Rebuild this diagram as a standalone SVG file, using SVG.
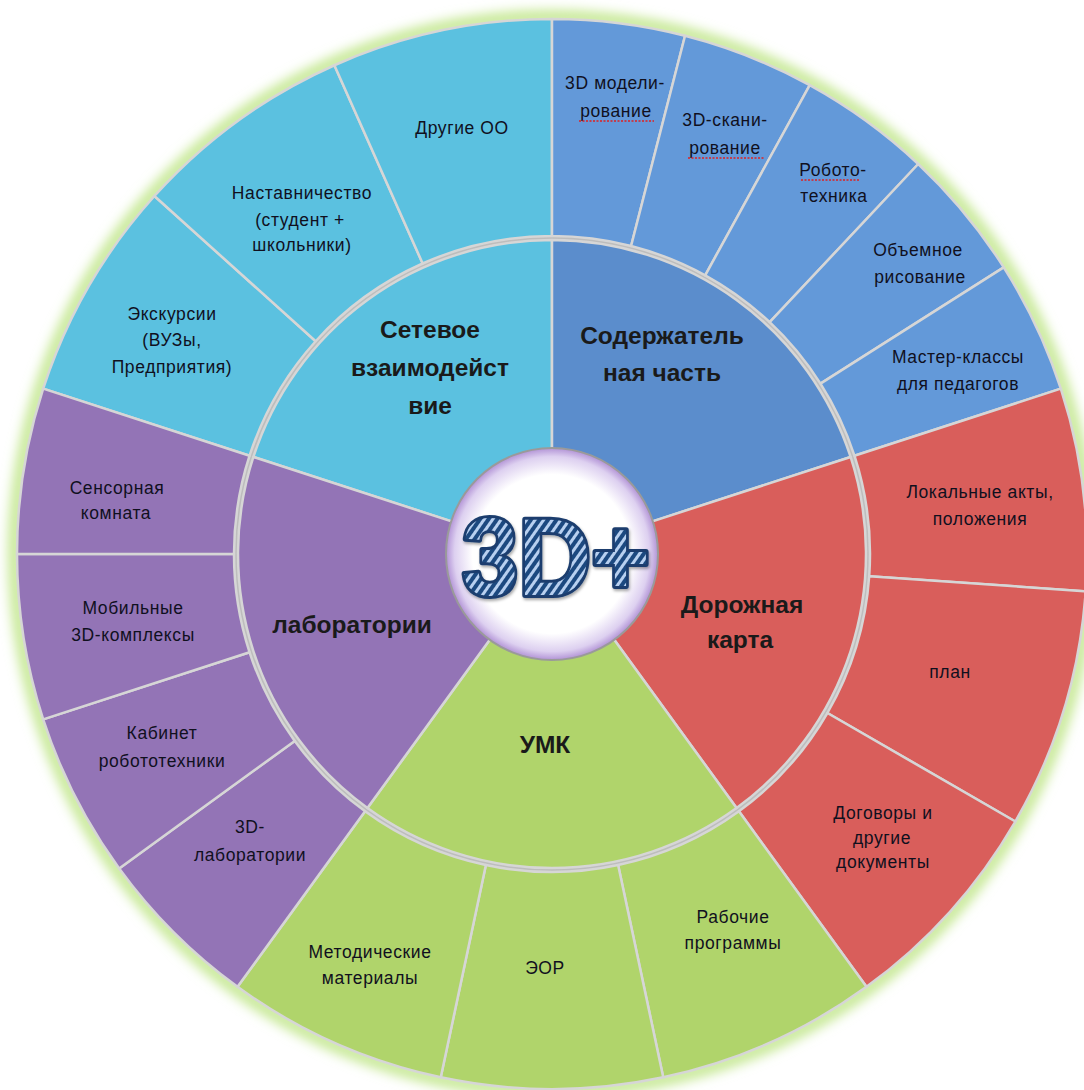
<svg xmlns="http://www.w3.org/2000/svg" width="1084" height="1090" viewBox="0 0 1084 1090">
<defs>
<style>
.seg{stroke:#d6d6d6;stroke-width:2.5;stroke-linejoin:round}
.cy{fill:#5bc1e0}
.bl{fill:#5b8dcc}
.blo{fill:#6399d9}
.rd{fill:#d95e5b}
.gr{fill:#b0d46b}
.pu{fill:#9374b6}
.main{font-family:"Liberation Sans","Noto Sans",sans-serif;font-weight:bold;font-size:24.5px;fill:#1a1a1a;text-anchor:middle}
.lab{font-family:"Liberation Sans","Noto Sans",sans-serif;font-size:17.5px;letter-spacing:0.6px;fill:#10101e;text-anchor:middle}
.sq{stroke:#e02020;stroke-width:1.6;stroke-dasharray:2 1.5;fill:none}
</style>
<filter id="glow" x="-10%" y="-10%" width="120%" height="120%">
<feGaussianBlur stdDeviation="6"/>
</filter>
<filter id="shade" x="-5%" y="-5%" width="110%" height="110%">
<feDropShadow dx="1" dy="2" stdDeviation="1.5" flood-color="#000" flood-opacity="0.35"/>
</filter>
<radialGradient id="hub" cx="0.5" cy="0.5" r="0.5">
<stop offset="0" stop-color="#ffffff"/>
<stop offset="0.75" stop-color="#ffffff"/>
<stop offset="0.92" stop-color="#ddd0f0"/>
<stop offset="1" stop-color="#b293d6"/>
</radialGradient>
<pattern id="stripes" width="7" height="7" patternUnits="userSpaceOnUse" patternTransform="rotate(35)">
<rect width="7" height="7" fill="#1f4a80"/>
<rect width="3" height="7" fill="#b8d0f0"/>
</pattern>
</defs>
<rect width="1084" height="1090" fill="#ffffff"/>
<circle cx="552" cy="554" r="537" fill="none" stroke="#c6e894" stroke-width="14" filter="url(#glow)"/>
<circle cx="552" cy="554" r="316" fill="none" stroke="#bdbdbd" stroke-width="5"/>

<g id="setevoe">
<path class="seg cy" d="M253.37,456.97 A314,314 0 0 1 552,240 L552,454 A100,100 0 0 0 456.89,523.10 Z"/>
<text class="main" x="430" y="338">Сетевое</text>
<text class="main" x="430" y="376">взаимодейст</text>
<text class="main" x="430" y="414">вие</text>
</g>
<g id="ekskursii">
<path class="seg cy" d="M43.18,388.67 A535,535 0 0 1 154.42,196.02 L315.68,341.22 A318,318 0 0 0 249.56,455.73 Z"/>
<text class="lab" x="172" y="320">Экскурсии</text>
<text class="lab" x="172" y="346">(ВУЗы,</text>
<text class="lab" x="172" y="373">Предприятия)</text>
</g>
<g id="nastavnichestvo">
<path class="seg cy" d="M154.42,196.02 A535,535 0 0 1 334.39,65.25 L422.66,263.49 A318,318 0 0 0 315.68,341.22 Z"/>
<text class="lab" x="302" y="199">Наставничество</text>
<text class="lab" x="300" y="226">(студент +</text>
<text class="lab" x="302" y="251">школьники)</text>
</g>
<g id="drugie-oo">
<path class="seg cy" d="M334.39,65.25 A535,535 0 0 1 552,19 L552,236 A318,318 0 0 0 422.66,263.49 Z"/>
<text class="lab" x="462" y="134">Другие ОО</text>
</g>

<g id="soderzhatelnaya">
<path class="seg bl" d="M552,240 A314,314 0 0 1 850.63,456.97 L647.11,523.10 A100,100 0 0 0 552,454 Z"/>
<text class="main" x="662" y="344">Содержатель</text>
<text class="main" x="662" y="381">ная часть</text>
</g>
<g id="modelirovanie">
<path class="seg blo" d="M552,19 A535,535 0 0 1 685.05,35.81 L631.08,245.99 A318,318 0 0 0 552,236 Z"/>
<text class="lab" x="615" y="89">3D модели-</text>
<text class="lab" x="616" y="117">рование</text>
<path class="sq" d="M579,121 H654"/>
</g>
<g id="skanirovanie">
<path class="seg blo" d="M685.05,35.81 A535,535 0 0 1 809.74,85.17 L705.20,275.33 A318,318 0 0 0 631.08,245.99 Z"/>
<text class="lab" x="725" y="126">3D-скани-</text>
<text class="lab" x="725" y="154">рование</text>
<path class="sq" d="M688,158 H764"/>
</g>
<g id="robototehnika">
<path class="seg blo" d="M809.74,85.17 A535,535 0 0 1 918.23,164.01 L769.69,322.19 A318,318 0 0 0 705.20,275.33 Z"/>
<text class="lab" x="833" y="176">Робото-</text>
<text class="lab" x="834" y="202">техника</text>
<path class="sq" d="M801,180 H860"/>
</g>
<g id="obemnoe">
<path class="seg blo" d="M918.23,164.01 A535,535 0 0 1 1003.72,267.33 L820.50,383.61 A318,318 0 0 0 769.69,322.19 Z"/>
<text class="lab" x="918" y="256">Объемное</text>
<text class="lab" x="920" y="283">рисование</text>
</g>
<g id="master-klassy">
<path class="seg blo" d="M1003.72,267.33 A535,535 0 0 1 1060.82,388.67 L854.44,455.73 A318,318 0 0 0 820.50,383.61 Z"/>
<text class="lab" x="958" y="363">Мастер-классы</text>
<text class="lab" x="958" y="390">для педагогов</text>
</g>

<g id="dorozhnaya">
<path class="seg rd" d="M850.63,456.97 A314,314 0 0 1 736.57,808.03 L610.78,634.90 A100,100 0 0 0 647.11,523.10 Z"/>
<text class="main" x="742" y="613">Дорожная</text>
<text class="main" x="740" y="648">карта</text>
</g>
<g id="lokalnye">
<path class="seg rd" d="M1060.82,388.67 A535,535 0 0 1 1085.7,591.3 L869.2,576.2 A318,318 0 0 0 854.44,455.73 Z"/>
<text class="lab" x="980" y="498">Локальные акты,</text>
<text class="lab" x="980" y="525">положения</text>
</g>
<g id="plan">
<path class="seg rd" d="M1085.7,591.3 A535,535 0 0 1 1015.33,821.5 L827.40,713 A318,318 0 0 0 869.2,576.2 Z"/>
<text class="lab" x="950" y="678">план</text>
</g>
<g id="dogovory">
<path class="seg rd" d="M1015.33,821.5 A535,535 0 0 1 866.47,986.83 L738.92,811.27 A318,318 0 0 0 827.40,713 Z"/>
<text class="lab" x="883" y="819">Договоры и</text>
<text class="lab" x="882" y="844">другие</text>
<text class="lab" x="883" y="868">документы</text>
</g>

<g id="umk">
<path class="seg gr" d="M736.57,808.03 A314,314 0 0 1 367.43,808.03 L493.22,634.90 A100,100 0 0 0 610.78,634.90 Z"/>
<text class="main" x="545" y="753">УМК</text>
</g>
<g id="rabochie">
<path class="seg gr" d="M866.47,986.83 A535,535 0 0 1 663.23,1077.31 L618.12,865.05 A318,318 0 0 0 738.92,811.27 Z"/>
<text class="lab" x="733" y="923">Рабочие</text>
<text class="lab" x="733" y="949">программы</text>
</g>
<g id="eor">
<path class="seg gr" d="M663.23,1077.31 A535,535 0 0 1 440.77,1077.31 L485.88,865.05 A318,318 0 0 0 618.12,865.05 Z"/>
<text class="lab" x="545" y="974">ЭОР</text>
</g>
<g id="metodicheskie">
<path class="seg gr" d="M440.77,1077.31 A535,535 0 0 1 237.53,986.83 L365.08,811.27 A318,318 0 0 0 485.88,865.05 Z"/>
<text class="lab" x="370" y="958">Методические</text>
<text class="lab" x="370" y="984">материалы</text>
</g>

<g id="laboratorii">
<path class="seg pu" d="M367.43,808.03 A314,314 0 0 1 253.37,456.97 L456.89,523.10 A100,100 0 0 0 493.22,634.90 Z"/>
<text class="main" x="352" y="633">лаборатории</text>
</g>
<g id="3d-laboratorii">
<path class="seg pu" d="M237.53,986.83 A535,535 0 0 1 119.17,868.47 L294.73,740.92 A318,318 0 0 0 365.08,811.27 Z"/>
<text class="lab" x="250" y="833">3D-</text>
<text class="lab" x="250" y="861">лаборатории</text>
</g>
<g id="kabinet">
<path class="seg pu" d="M119.17,868.47 A535,535 0 0 1 43.18,719.33 L249.56,652.27 A318,318 0 0 0 294.73,740.92 Z"/>
<text class="lab" x="162" y="739">Кабинет</text>
<text class="lab" x="162" y="767">робототехники</text>
</g>
<g id="mobilnye">
<path class="seg pu" d="M43.18,719.33 A535,535 0 0 1 17,554 L234,554 A318,318 0 0 0 249.56,652.27 Z"/>
<text class="lab" x="133" y="614">Мобильные</text>
<text class="lab" x="133" y="641">3D-комплексы</text>
</g>
<g id="sensornaya">
<path class="seg pu" d="M17,554 A535,535 0 0 1 43.18,388.67 L249.56,455.73 A318,318 0 0 0 234,554 Z"/>
<text class="lab" x="117" y="494">Сенсорная</text>
<text class="lab" x="116" y="519">комната</text>
</g>

<g id="center">
<circle cx="552" cy="554" r="106" fill="url(#hub)" stroke="#9a9a9a" stroke-width="2"/>
<text x="556" y="595" font-family="Liberation Sans, Noto Sans, sans-serif" font-weight="bold" font-size="110" text-anchor="middle" textLength="188" lengthAdjust="spacingAndGlyphs" fill="url(#stripes)" stroke="#1b3d6e" stroke-width="6" stroke-linejoin="round" paint-order="stroke" filter="url(#shade)">3D+</text>
</g>
</svg>
